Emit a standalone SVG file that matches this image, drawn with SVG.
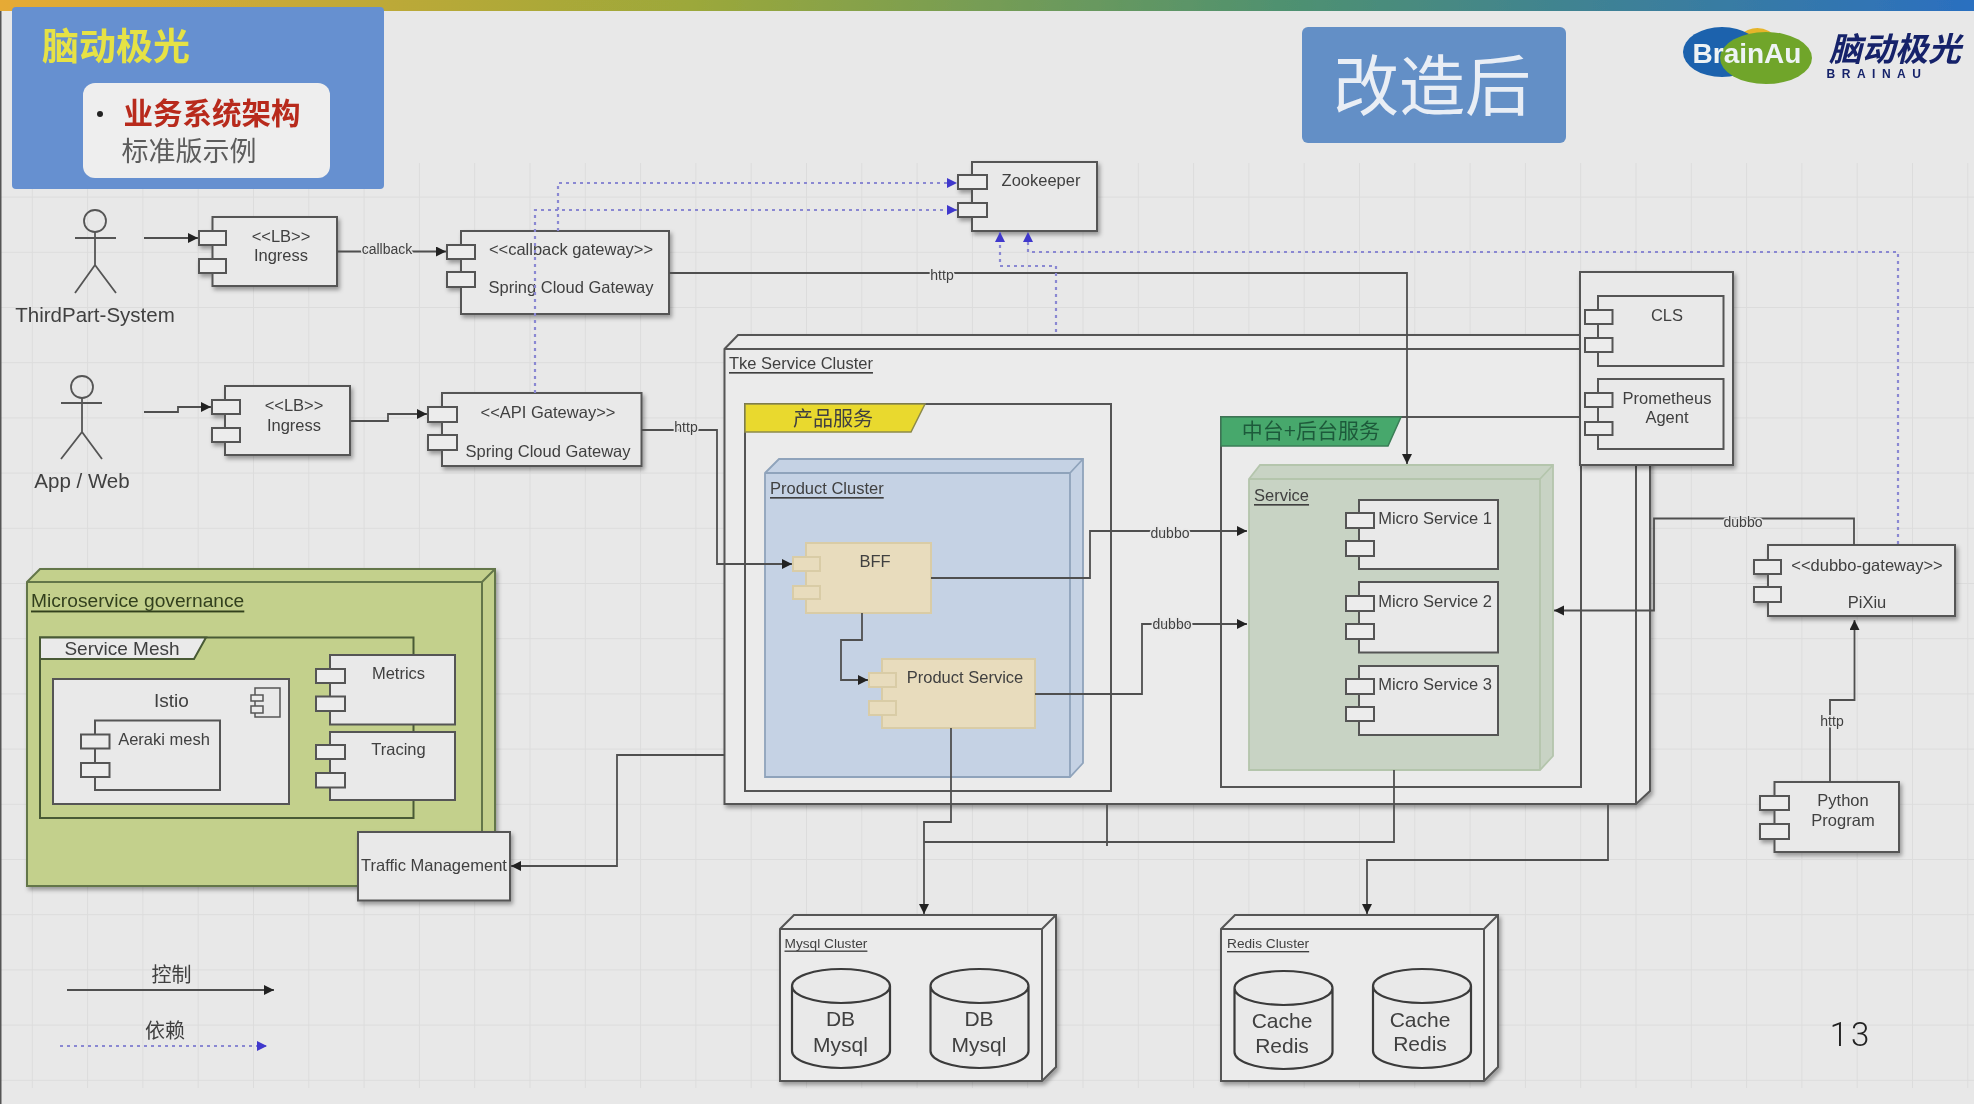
<svg xmlns="http://www.w3.org/2000/svg" width="1974" height="1104" viewBox="0 0 1974 1104">
<style>
text{font-family:"Liberation Sans",Arial,"Noto Sans CJK SC",sans-serif;fill:#404040;dominant-baseline:central;text-anchor:middle;font-size:16.5px;transform:translateY(-1px)}
.box{fill:#e9e9e9;stroke:#555;stroke-width:2}
.port{fill:#ececec;stroke:#555;stroke-width:2}
.beige{fill:#e8dcbd;stroke:#d9cca6;stroke-width:2}
.bport{fill:#e8dcbd;stroke:#d9cca6;stroke-width:2}
.cube{fill:#ebebeb;stroke:#555;stroke-width:2}
.cubeb{fill:none;stroke:#555;stroke-width:2}
.frame{fill:#ebebeb;stroke:#555;stroke-width:2}
.u{text-decoration:underline;text-anchor:start}
.act{fill:none;stroke:#555;stroke-width:1.8}
.cyl{fill:#e9e9e9;stroke:#3a3a3a;stroke-width:2.2}
.line{fill:none;stroke:#4f4f4f;stroke-width:1.8}
.dep{fill:none;stroke:#8a88d2;stroke-width:2.2;stroke-dasharray:3 4}
.lbl{font-size:14px;paint-order:stroke;stroke:#e8e8e8;stroke-width:3px}
</style>
<defs>
<linearGradient id="bar"><stop offset="0" stop-color="#e6aa35"/><stop offset=".35" stop-color="#9ca83a"/><stop offset=".65" stop-color="#4f9170"/><stop offset="1" stop-color="#2b6fc0"/></linearGradient>
<pattern id="grid" width="55.3" height="55.2" x="31.8" y="31" patternUnits="userSpaceOnUse"><path d="M.5 0V55.2M0 .5H55.3" fill="none" stroke="#dcdcdc" stroke-width="1"/></pattern>
<marker id="a" markerUnits="userSpaceOnUse" markerWidth="12" markerHeight="12" refX="10" refY="5" orient="auto"><path d="M0 0L10 5L0 10Z" fill="#222"/></marker>
<marker id="b" markerUnits="userSpaceOnUse" markerWidth="12" markerHeight="12" refX="10" refY="5" orient="auto"><path d="M0 0L10 5L0 10Z" fill="#3f38cc"/></marker>
<filter id="s" x="-10%" y="-10%" width="125%" height="125%"><feDropShadow dx="2" dy="3" stdDeviation="2" flood-color="#000" flood-opacity=".35"/></filter>
<filter id="soft" filterUnits="userSpaceOnUse" x="0" y="0" width="1974" height="1104"><feGaussianBlur stdDeviation=".6"/></filter>
</defs>
<g filter="url(#soft)">
<g id="background">
<rect width="1974" height="1104" fill="#e8e8e8"/>
<rect x="0" y="163" width="1974" height="925" fill="url(#grid)"/>
<rect width="1974" height="11" fill="url(#bar)"/>
<rect x="0" y="11" width="1.5" height="1093" fill="#555"/>
</g>
<g id="title-panel">
<rect x="12" y="7" width="372" height="182" rx="4" fill="#6690d0"/>
<text x="116" y="48.5" style="font-size:37px;fill:#e6e244;font-weight:700">脑动极光</text>
<rect x="83" y="83" width="247" height="95" rx="12" fill="#eeeeee"/>
<circle cx="100" cy="114" r="3" fill="#222"/>
<text x="212" y="114.5" style="font-size:29.5px;fill:#b82c1e;font-weight:700">业务系统架构</text>
<text x="189" y="153" style="font-size:27px;fill:#5c5c5c">标准版示例</text>
</g>
<g id="after-badge">
<rect x="1302" y="27" width="264" height="116" rx="6" fill="#638fc6"/>
<text x="1432" y="88" style="font-size:66px;fill:#e9eef5">改造后</text>
</g>
<g id="logo">
<path d="M1738 36Q1760 18 1780 40L1775 60L1740 58Z" fill="#e6b52c"/>
<ellipse cx="1722" cy="52" rx="39" ry="25" fill="#1a62ad"/>
<ellipse cx="1766" cy="58" rx="46" ry="26" fill="#6fa52c"/>
<text x="1747" y="54" style="font-size:28px;font-weight:700;fill:#eef3f4">BrainAu</text>
<text x="1895" y="50" style="font-size:33px;fill:#16246a;font-style:italic;font-weight:700">脑动极光</text>
<text x="1877" y="75" style="font-size:12px;font-weight:700;fill:#16246a;letter-spacing:6.5px">BRAINAU</text>
</g>
<g id="thirdpart-system">
<ellipse class="act" cx="95" cy="221" rx="11" ry="11"/>
<path class="act" d="M95 232V265M75 238H116M75 293L95 265L116 293"/>
<text x="95" y="315" style="font-size:20.5px">ThirdPart-System</text>
</g>
<g id="app-web">
<ellipse class="act" cx="82" cy="387" rx="11" ry="11"/>
<path class="act" d="M82 398V432M61 403H102M61 459L82 432L102 459"/>
<text x="82" y="481" style="font-size:20.5px">App / Web</text>
</g>
<g id="ingress-1" filter="url(#s)">
<rect class="box" x="212.5" y="217" width="124.5" height="69"/>
<rect class="port" x="199" y="231" width="27" height="14"/><rect class="port" x="199" y="259" width="27" height="14"/>
<text x="281" y="237">&lt;&lt;LB&gt;&gt;</text><text x="281" y="256">Ingress</text>
</g>
<g id="callback-gateway" filter="url(#s)">
<rect class="box" x="461" y="231" width="208" height="83"/>
<rect class="port" x="447" y="245" width="28" height="14"/><rect class="port" x="447" y="272" width="28" height="15"/>
<text x="571" y="250">&lt;&lt;callback gateway&gt;&gt;</text><text x="571" y="288">Spring Cloud Gateway</text>
</g>
<g id="ingress-2" filter="url(#s)">
<rect class="box" x="225" y="386" width="125" height="69"/>
<rect class="port" x="212" y="400" width="28" height="14"/><rect class="port" x="212" y="428" width="28" height="14"/>
<text x="294" y="406">&lt;&lt;LB&gt;&gt;</text><text x="294" y="426">Ingress</text>
</g>
<g id="api-gateway" filter="url(#s)">
<rect class="box" x="442" y="393" width="199.5" height="73"/>
<rect class="port" x="428" y="407" width="29" height="15"/><rect class="port" x="428" y="435" width="29" height="15"/>
<text x="548" y="413">&lt;&lt;API Gateway&gt;&gt;</text><text x="548" y="452">Spring Cloud Gateway</text>
</g>
<g id="zookeeper" filter="url(#s)">
<rect class="box" x="972" y="162" width="125" height="69"/>
<rect class="port" x="958" y="175" width="29" height="14"/><rect class="port" x="958" y="203" width="29" height="14"/>
<text x="1041" y="181">Zookeeper</text>
</g>
<g id="tke-cluster">
<path class="cube" filter="url(#s)" d="M724.5 349L738 335H1650V791L1636 804H724.5Z"/>
<path class="cubeb" d="M724.5 349H1636V804M1636 349L1650 335"/>
<text class="u" x="729" y="364">Tke Service Cluster</text>
</g>
<g id="product-services">
<rect class="frame" x="745" y="404" width="366" height="387"/>
<path d="M745 404H925L911 432H745Z" fill="#e9d92f" stroke="#8d8a4a" stroke-width="1.5"/>
<text x="833" y="420" style="font-size:20px">产品服务</text>
</g>
<g id="product-cluster">
<path d="M765 473L779 459H1083V763L1070 777H765Z" fill="#c5d2e4" stroke="#8fa3bb" stroke-width="1.8"/>
<path d="M765 473H1070V777M1070 473L1083 459" fill="none" stroke="#8fa3bb" stroke-width="1.8"/>
<text class="u" x="770" y="489">Product Cluster</text>
</g>
<g id="bff">
<rect class="beige" x="806" y="543" width="125" height="70"/>
<rect class="bport" x="793" y="557" width="27" height="14"/><rect class="bport" x="793" y="586" width="27" height="13"/>
<text x="875" y="562">BFF</text>
</g>
<g id="product-service">
<rect class="beige" x="882" y="659" width="153" height="69"/>
<rect class="bport" x="869" y="673" width="27" height="14"/><rect class="bport" x="869" y="701" width="27" height="14"/>
<text x="965" y="678">Product Service</text>
</g>
<g id="platform-services">
<rect class="frame" x="1221" y="417" width="360" height="370"/>
<path d="M1221 417H1401L1388 446H1221Z" fill="#47a86c" stroke="#3a7d56" stroke-width="1.5"/>
<text x="1311" y="431" style="font-size:21px;fill:#1f5a3a">中台+后台服务</text>
</g>
<g id="service">
<path d="M1249 479L1260 465H1553V756L1540 770H1249Z" fill="#c8d3c4" stroke="#b4c5ac" stroke-width="1.8"/>
<path d="M1249 479H1540V770M1540 479L1553 465" fill="none" stroke="#b4c5ac" stroke-width="1.8"/>
<text class="u" x="1254" y="496">Service</text>
</g>
<g id="micro-service-1">
<rect class="box" x="1359" y="500" width="139" height="69"/>
<rect class="port" x="1346" y="513" width="28" height="15"/><rect class="port" x="1346" y="541" width="28" height="15"/>
<text x="1435" y="518.5">Micro Service 1</text>
</g>
<g id="micro-service-2">
<rect class="box" x="1359" y="582" width="139" height="70.5"/>
<rect class="port" x="1346" y="596" width="28" height="15"/><rect class="port" x="1346" y="624" width="28" height="15"/>
<text x="1435" y="602">Micro Service 2</text>
</g>
<g id="micro-service-3">
<rect class="box" x="1359" y="666" width="139" height="69"/>
<rect class="port" x="1346" y="679" width="28" height="15"/><rect class="port" x="1346" y="707" width="28" height="14"/>
<text x="1435" y="685">Micro Service 3</text>
</g>
<g id="monitoring">
<rect class="box" filter="url(#s)" x="1580" y="272" width="153" height="193"/>
</g>
<g id="cls">
<rect class="box" x="1598" y="296" width="125.5" height="70"/>
<rect class="port" x="1585" y="310" width="27.5" height="14"/><rect class="port" x="1585" y="338" width="27.5" height="14"/>
<text x="1667" y="316">CLS</text>
</g>
<g id="prometheus-agent">
<rect class="box" x="1598" y="379" width="125.5" height="70"/>
<rect class="port" x="1585" y="393" width="27.5" height="14"/><rect class="port" x="1585" y="422" width="27.5" height="13"/>
<text x="1667" y="399">Prometheus</text><text x="1667" y="418">Agent</text>
</g>
<g id="pixiu" filter="url(#s)">
<rect class="box" x="1768" y="545" width="187" height="71"/>
<rect class="port" x="1754" y="560" width="27" height="14"/><rect class="port" x="1754" y="587" width="27" height="15"/>
<text x="1867" y="565.5">&lt;&lt;dubbo-gateway&gt;&gt;</text><text x="1867" y="603">PiXiu</text>
</g>
<g id="python-program" filter="url(#s)">
<rect class="box" x="1774.5" y="782" width="124.5" height="70"/>
<rect class="port" x="1760" y="796" width="29" height="14"/><rect class="port" x="1760" y="824" width="29" height="15"/>
<text x="1843" y="801">Python</text><text x="1843" y="820.5">Program</text>
</g>
<g id="microservice-governance">
<path filter="url(#s)" d="M27 582L40 569H495V873L482 886H27Z" fill="#c3d08c" stroke="#64764a" stroke-width="2"/>
<path d="M27 582H482V886M482 582L495 569" fill="none" stroke="#64764a" stroke-width="2"/>
<text class="u" x="31" y="601" style="font-size:19.2px;fill:#33401f">Microservice governance</text>
</g>
<g id="service-mesh">
<rect x="40" y="637.5" width="373.5" height="180.5" fill="none" stroke="#485a34" stroke-width="2"/>
<path d="M40 637.5H206L194 659H40Z" fill="#eaeaea" stroke="#485a34" stroke-width="2"/>
<text x="122" y="649" style="font-size:19px">Service Mesh</text>
</g>
<g id="istio">
<rect class="box" x="53" y="679" width="236" height="125"/>
<text x="171.5" y="701" style="font-size:19px">Istio</text>
<rect class="box" x="255" y="688" width="25" height="29" style="stroke-width:1.5"/>
<rect class="port" x="251" y="695" width="12" height="6" style="stroke-width:1.5"/><rect class="port" x="251" y="706" width="12" height="7" style="stroke-width:1.5"/>
</g>
<g id="aeraki-mesh">
<rect class="box" x="95" y="720.5" width="125" height="69.5"/>
<rect class="port" x="81" y="734.5" width="28.5" height="14"/><rect class="port" x="81" y="763" width="28.5" height="14"/>
<text x="164" y="740">Aeraki mesh</text>
</g>
<g id="metrics">
<rect class="box" x="330" y="655" width="125" height="69.5"/>
<rect class="port" x="316" y="669" width="29" height="14"/><rect class="port" x="316" y="696.5" width="29" height="14.5"/>
<text x="398.5" y="674">Metrics</text>
</g>
<g id="tracing">
<rect class="box" x="330" y="732" width="125" height="68"/>
<rect class="port" x="316" y="745" width="29" height="14"/><rect class="port" x="316" y="773" width="29" height="14.5"/>
<text x="398.5" y="750">Tracing</text>
</g>
<g id="traffic-management" filter="url(#s)">
<rect class="box" x="358" y="832" width="152" height="68.5"/>
<text x="434" y="866">Traffic Management</text>
</g>
<g id="mysql-cluster">
<path class="cube" filter="url(#s)" d="M780 929L794 915H1056V1067L1042 1081H780Z"/>
<path class="cubeb" d="M780 929H1042V1081M1042 929L1056 915"/>
<text class="u" x="784.5" y="944" style="font-size:13.7px">Mysql Cluster</text>
</g>
<g id="db-mysql-1">
<path class="cyl" d="M792 986V1051A49 17 0 0 0 890 1051V986A49 17 0 0 0 792 986A49 17 0 0 0 890 986"/>
<text x="840.5" y="1019" style="font-size:21px">DB</text><text x="840.5" y="1045" style="font-size:21px">Mysql</text>
</g>
<g id="db-mysql-2">
<path class="cyl" d="M930.5 986V1051A49 17 0 0 0 1028.5 1051V986A49 17 0 0 0 930.5 986A49 17 0 0 0 1028.5 986"/>
<text x="979" y="1019" style="font-size:21px">DB</text><text x="979" y="1045" style="font-size:21px">Mysql</text>
</g>
<g id="redis-cluster">
<path class="cube" filter="url(#s)" d="M1221 929L1235 915H1498V1067L1484 1081H1221Z"/>
<path class="cubeb" d="M1221 929H1484V1081M1484 929L1498 915"/>
<text class="u" x="1227" y="944.5" style="font-size:13.7px">Redis Cluster</text>
</g>
<g id="cache-redis-1">
<path class="cyl" d="M1234.5 988V1052A49 17 0 0 0 1332.5 1052V988A49 17 0 0 0 1234.5 988A49 17 0 0 0 1332.5 988"/>
<text x="1282" y="1021" style="font-size:21px">Cache</text><text x="1282" y="1046" style="font-size:21px">Redis</text>
</g>
<g id="cache-redis-2">
<path class="cyl" d="M1373 986V1051A49 17 0 0 0 1471 1051V986A49 17 0 0 0 1373 986A49 17 0 0 0 1471 986"/>
<text x="1420" y="1020" style="font-size:21px">Cache</text><text x="1420" y="1044" style="font-size:21px">Redis</text>
</g>
<g id="connectors">
<path class="line" marker-end="url(#a)" d="M144 238H198"/>
<path class="line" marker-end="url(#a)" d="M337 251.5H446"/>
<path class="line" marker-end="url(#a)" d="M144 412H178V407H211"/>
<path class="line" marker-end="url(#a)" d="M350 421H388V414H427"/>
<path class="line" marker-end="url(#a)" d="M641.5 430H717V564H792"/>
<path class="line" marker-end="url(#a)" d="M669 273H1407V464"/>
<path class="line" marker-end="url(#a)" d="M862 613V640H841V680H868"/>
<path class="line" marker-end="url(#a)" d="M931 578H1090V531H1247"/>
<path class="line" marker-end="url(#a)" d="M1035 694H1142V624H1247"/>
<path class="line" marker-end="url(#a)" d="M951 728V822H924V914"/>
<path class="line" d="M924 842H1394V770"/>
<path class="line" d="M1107 804V846"/>
<path class="line" marker-end="url(#a)" d="M1608 804V860H1367V914"/>
<path class="line" marker-end="url(#a)" d="M724.5 755H617V866H511"/>
<path class="line" marker-end="url(#a)" d="M1854 545V518.5H1654V610.5H1554"/>
<path class="line" marker-end="url(#a)" d="M1830 782V700H1854.5V620"/>
<path class="dep" marker-end="url(#b)" d="M535 393V210H957"/>
<path class="dep" marker-end="url(#b)" d="M558 231V183H957"/>
<path class="dep" marker-end="url(#b)" d="M1056 332V266H1000V232"/>
<path class="dep" marker-end="url(#b)" d="M1898 544V252H1028V232"/>
<text class="lbl" x="387" y="250">callback</text>
<text class="lbl" x="686" y="428">http</text>
<text class="lbl" x="942" y="276">http</text>
<text class="lbl" x="1170" y="534">dubbo</text>
<text class="lbl" x="1172" y="625">dubbo</text>
<text class="lbl" x="1743" y="523">dubbo</text>
<text class="lbl" x="1832" y="722">http</text>
</g>
<g id="legend">
<text x="171.5" y="976" style="font-size:20px">控制</text>
<path class="line" marker-end="url(#a)" d="M67 990H274"/>
<text x="165" y="1032" style="font-size:20px">依赖</text>
<path class="dep" marker-end="url(#b)" d="M60 1046H267"/>
</g>
<g id="page-number">
<text x="1851" y="1035" style="font-family:Roboto,sans-serif;font-weight:300;font-size:33px;fill:#222;letter-spacing:3px">13</text>
</g>
</g>
</svg>
